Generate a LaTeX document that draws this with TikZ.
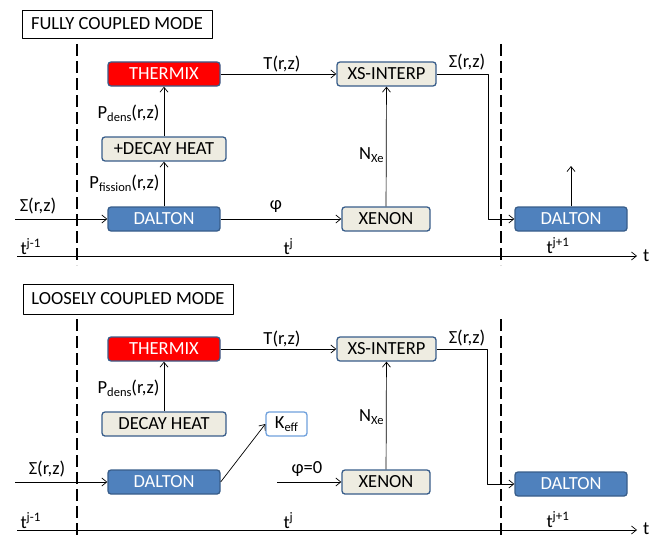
\documentclass[tikz,border=0pt]{standalone}
\usepackage{fontspec}
\setmainfont{Carlito}
\usetikzlibrary{arrows.meta}
\definecolor{dblue}{HTML}{4F81BD}
\definecolor{dborder}{HTML}{385D8A}
\definecolor{beige}{HTML}{EEECE1}
\definecolor{lborder}{HTML}{6FA0DC}
\tikzset{
  box/.style={draw=dborder, line width=1.3pt, rounded corners=3pt, minimum height=24pt, inner sep=0pt},
  redbox/.style={box, fill=red, text=white, minimum width=112pt},
  bluebox/.style={box, fill=dblue, text=white, minimum width=112pt},
  greybox/.style={box, fill=beige},
  modebox/.style={draw, line width=0.8pt, fill=white, minimum height=28pt, inner sep=0pt},
  sepline/.style={line width=1.8pt, dash pattern=on 12pt off 5pt},
  conn/.style={line width=0.7pt, -{Straight Barb[length=5pt,width=8pt]}},
}
\newcommand{\sub}[1]{\raisebox{-0.3ex}{\fontsize{12.5}{13}\selectfont #1}}
\newcommand{\sups}[1]{\raisebox{0.75ex}{\fontsize{13}{14}\selectfont #1}}
\begin{document}
\begin{tikzpicture}[x=1pt, y=-1pt, font=\fontsize{18.5}{20}\selectfont, line join=round]
  \useasboundingbox (0,0) rectangle (661,535);
  % fully coupled mode
  \node[modebox, minimum width=190pt] (fMode) at (117,24) {FULLY COUPLED MODE};
  \draw[sepline] (77,44) -- (77,265);
  \draw[sepline] (501,44) -- (501,265);
  \node[redbox] (fThermix) at (164,74) {THERMIX};
  \node[greybox, minimum width=124pt] (fDecay) at (164,149) {+DECAY HEAT};
  \node[bluebox] (fDalton) at (164,219) {DALTON};
  \node[greybox, minimum width=99pt] (fXS) at (386.5,74) {XS-INTERP};
  \node[greybox, minimum width=88pt] (fXenon) at (386,219) {XENON};
  \node[bluebox] (fDaltonN) at (571,219) {DALTON};
  \coordinate (fIn) at (15,219);
  \coordinate (fOut) at (571,166);
  \coordinate (fT0) at (17,256);
  \coordinate (fT1) at (637,256);
  \draw[conn] (fIn) -- (fDalton);
  \draw[conn] (fDalton) -- (fDecay);
  \draw[conn] (fDecay) -- (fThermix);
  \draw[conn] (fThermix) -- (fXS);
  \draw[conn] (fDalton) -- (fXenon);
  \draw[conn] (fXenon) -- (fXS);
  \draw[conn] (fXS.east) -- (488,74) |- (fDaltonN.west);
  \draw[conn] (fDaltonN) -- (fOut);
  \draw[conn] (fT0) -- (fT1);
  \node at (38,206) {Σ(r,z)};
  \node[anchor=east] at (163,183) {P\sub{fission}(r,z)};
  \node[anchor=east] at (163,113) {P\sub{dens}(r,z)};
  \node at (282,64) {T(r,z)};
  \node at (276,207) {φ};
  \node[anchor=east] at (387,155) {N\sub{Xe}};
  \node at (467,62) {Σ(r,z)};
  \node[anchor=base west] at (17,254) {t\sups{j-1}};
  \node[anchor=base west] at (280,254) {t\sups{j}};
  \node[anchor=base west] at (543,253) {t\sups{j+1}};
  \node[anchor=base west, inner sep=0pt] at (643,261) {t};
  % loosely coupled mode
  \node[modebox, minimum width=210pt, minimum height=30pt] (lMode) at (128,299) {LOOSELY COUPLED MODE};
  \draw[sepline] (77,319) -- (77,535);
  \draw[sepline] (501,319) -- (501,535);
  \node[redbox] (lThermix) at (164,349) {THERMIX};
  \node[greybox, minimum width=124pt] (lDecay) at (164,424) {DECAY HEAT};
  \node[box, draw=lborder, fill=white, minimum width=41pt] (lKeff) at (286.5,424) {K\sub{eff}};
  \node[bluebox] (lDalton) at (164,482) {DALTON};
  \node[greybox, minimum width=99pt] (lXS) at (386.5,349) {XS-INTERP};
  \node[greybox, minimum width=88pt] (lXenon) at (386,482) {XENON};
  \node[bluebox] (lDaltonN) at (571,484) {DALTON};
  \coordinate (lIn) at (15,482);
  \coordinate (lPhi) at (277,482);
  \coordinate (lT0) at (17,530);
  \coordinate (lT1) at (637,530);
  \draw[conn] (lIn) -- (lDalton);
  \draw[conn] (lDalton.east) -- (lKeff.west);
  \draw[conn] (lDecay) -- (lThermix);
  \draw[conn] (lThermix) -- (lXS);
  \draw[conn] (lPhi) -- (lXenon);
  \draw[conn] (lXenon) -- (lXS);
  \draw[conn] (lXS.east) -- (487,349) |- (lDaltonN.west);
  \draw[conn] (lT0) -- (lT1);
  \node at (47,469) {Σ(r,z)};
  \node[anchor=east] at (163,388) {P\sub{dens}(r,z)};
  \node at (282,339) {T(r,z)};
  \node at (307,469) {φ=0};
  \node[anchor=east] at (387,417) {N\sub{Xe}};
  \node at (467,338) {Σ(r,z)};
  \node[anchor=base west] at (17,528) {t\sups{j-1}};
  \node[anchor=base west] at (280,528) {t\sups{j}};
  \node[anchor=base west] at (543,527) {t\sups{j+1}};
  \node[anchor=base west, inner sep=0pt] at (643,534) {t};
\end{tikzpicture}
\end{document}
